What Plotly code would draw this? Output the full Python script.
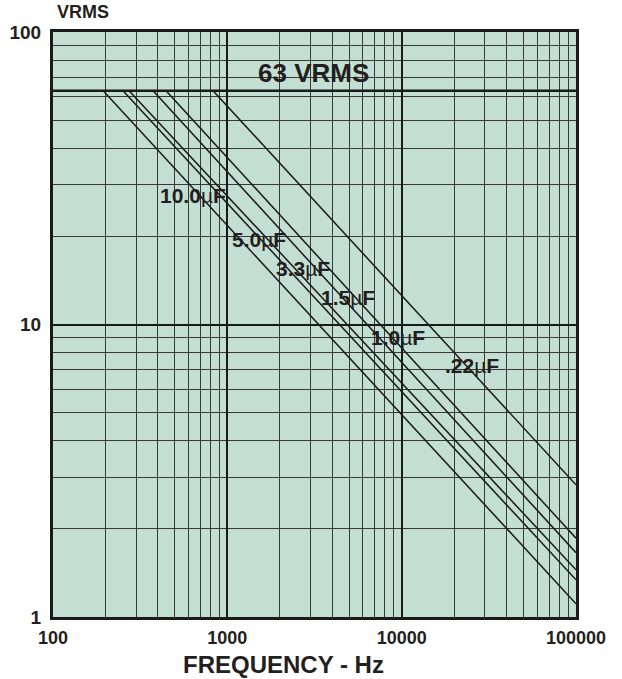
import math
import plotly.graph_objects as go

# Data
capacitances = ["10.0", "5.0", "3.3", "1.5", "1.0", ".22"]
start_freq = [194, 252, 273, 375, 445, 828]        # Hz where curve meets 63 VRMS
end_freq = [100000] * 6
end_vrms = [1.11, 1.34, 1.45, 1.66, 1.86, 2.83]     # VRMS at 100 kHz
limit_vrms = 63

label_freq = [636, 1521, 2718, 4925, 9530, 25350]
label_vrms = [27.7, 19.5, 15.6, 12.4, 9.06, 7.27]

x_ticks = [100, 1000, 10000, 100000]
x_ticktext = ["100", "1000", "10000", "100000"]
y_ticks = [1, 10, 100]
y_ticktext = ["1", "10", "100"]

FONT = "Liberation Sans, Arial, Helvetica, sans-serif"
BG = "#c3ded2"
INK = "#231f20"

fig = go.Figure()

# 63 VRMS limit line
fig.add_trace(go.Scatter(x=[x_ticks[0], x_ticks[-1]], y=[limit_vrms, limit_vrms],
                         mode="lines", line=dict(color="#1a1a1a", width=2.5),
                         hoverinfo="skip", showlegend=False))

for cap, fs, fe, ve in zip(capacitances, start_freq, end_freq, end_vrms):
    fig.add_trace(go.Scatter(x=[fs, fe], y=[limit_vrms, ve], mode="lines",
                             line=dict(color="#1a1a1a", width=1.5),
                             name=cap + "µF", showlegend=False))

# annotations on log axes take log10 coordinates
for cap, lf, lv in zip(capacitances, label_freq, label_vrms):
    fig.add_annotation(x=math.log10(lf), y=math.log10(lv), xref="x", yref="y",
                       text="<b>" + cap + "</b>µ<b>F</b>", showarrow=False,
                       font=dict(family=FONT, size=21, color=INK))

fig.add_annotation(x=math.log10(3103), y=math.log10(72.4), xref="x", yref="y",
                   text="<b>63 VRMS</b>", showarrow=False,
                   font=dict(family=FONT, size=26, color=INK))

# y-axis unit label (top-left)
fig.add_annotation(x=0.057, y=1.0, xref="paper", yref="paper", text="<b>VRMS</b>",
                   xanchor="center", yanchor="middle", yshift=20,
                   showarrow=False, font=dict(family=FONT, size=18, color=INK))

# x-axis title
fig.add_annotation(x=0.44, y=0.0, xref="paper", yref="paper",
                   text="<b>FREQUENCY - Hz</b>", xanchor="center", yanchor="middle",
                   yshift=-47, showarrow=False,
                   font=dict(family=FONT, size=24, color=INK))

axis_common = dict(
    type="log", showline=True, mirror=True, linecolor="#1a1a1a", linewidth=3,
    showgrid=True, gridcolor="#1a1a1a", gridwidth=2, zeroline=False, ticks="",
    automargin=False,
    minor=dict(dtick="D1", showgrid=True, gridcolor="#383838", gridwidth=1.2, ticks=""),
)

fig.update_xaxes(**axis_common, range=[2, 5], tickvals=x_ticks, ticktext=x_ticktext,
                 tickfont=dict(family=FONT, size=18, color=INK, weight="bold"),
                 ticklabelstandoff=2)
fig.update_yaxes(**axis_common, range=[0, 2], tickvals=y_ticks, ticktext=y_ticktext,
                 tickfont=dict(family=FONT, size=19, color=INK, weight="bold"),
                 ticklabelstandoff=5)

fig.update_layout(width=622, height=679, margin=dict(l=53, r=46, t=32, b=62),
                  plot_bgcolor=BG, paper_bgcolor="white", showlegend=False)

fig.write_html("out.html", config={"displayModeBar": False},
               post_script="document.body.style.margin='0';"
                           "document.documentElement.style.overflow='hidden';")
